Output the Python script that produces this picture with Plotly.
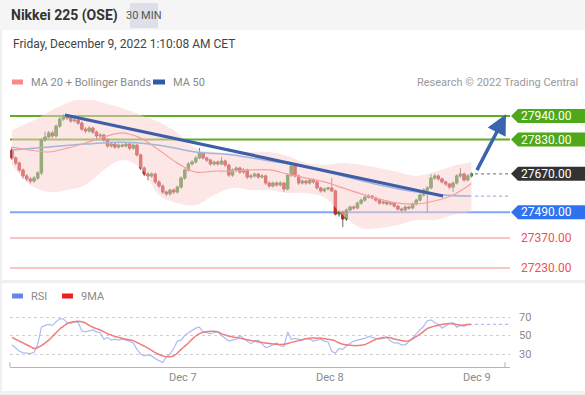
import plotly.graph_objects as go

# ---------------- data ----------------
opens = [27781, 27744, 27720, 27688, 27660, 27646, 27636, 27650, 27674, 27828,
         27842, 27861, 27847, 27893, 27926, 27935, 27931, 27917, 27921, 27907,
         27879, 27870, 27884, 27865, 27847, 27851, 27828, 27800, 27809, 27795,
         27804, 27800, 27809, 27790, 27804, 27758, 27697, 27669, 27660, 27669,
         27632, 27613, 27585, 27576, 27594, 27585, 27608, 27650, 27688, 27716,
         27725, 27744, 27767, 27744, 27734, 27716, 27725, 27716, 27730, 27711,
         27664, 27688, 27697, 27678, 27688, 27655, 27660, 27669, 27655, 27660,
         27627, 27613, 27627, 27618, 27627, 27599, 27664, 27706, 27660, 27627,
         27636, 27627, 27641, 27632, 27604, 27590, 27599, 27604, 27590, 27482,
         27491, 27459, 27501, 27515, 27510, 27533, 27547, 27561, 27566, 27557,
         27547, 27533, 27538, 27529, 27533, 27519, 27505, 27501, 27515, 27510,
         27529, 27547, 27571, 27594, 27604, 27650, 27660, 27646, 27632, 27622,
         27608, 27627, 27660, 27669, 27641, 27660]
closes = [27744, 27720, 27688, 27660, 27646, 27636, 27650, 27674, 27828, 27842,
          27861, 27847, 27893, 27926, 27935, 27931, 27917, 27921, 27907, 27879,
          27870, 27884, 27865, 27847, 27851, 27828, 27800, 27809, 27795, 27804,
          27800, 27809, 27790, 27804, 27758, 27697, 27669, 27660, 27669, 27632,
          27613, 27585, 27576, 27594, 27585, 27608, 27650, 27688, 27716, 27725,
          27744, 27767, 27744, 27734, 27716, 27725, 27716, 27730, 27711, 27664,
          27688, 27697, 27678, 27688, 27655, 27660, 27669, 27655, 27660, 27627,
          27613, 27627, 27618, 27627, 27599, 27664, 27706, 27660, 27627, 27636,
          27627, 27641, 27632, 27604, 27590, 27599, 27604, 27590, 27482, 27491,
          27459, 27501, 27515, 27510, 27533, 27547, 27561, 27566, 27557, 27547,
          27533, 27538, 27529, 27533, 27519, 27505, 27501, 27515, 27510, 27529,
          27547, 27571, 27594, 27604, 27650, 27660, 27646, 27632, 27622, 27608,
          27627, 27660, 27669, 27641, 27660, 27670]
highs = [27795, 27752, 27728, 27695, 27668, 27655, 27660, 27682, 27836, 27868,
         27870, 27872, 27900, 27935, 27948, 27942, 27938, 27930, 27928, 27915,
         27888, 27893, 27890, 27872, 27860, 27858, 27835, 27818, 27815, 27812,
         27812, 27818, 27815, 27812, 27810, 27765, 27705, 27678, 27677, 27676,
         27640, 27620, 27592, 27600, 27602, 27615, 27658, 27695, 27725, 27735,
         27752, 27790, 27772, 27750, 27740, 27732, 27732, 27748, 27736, 27718,
         27695, 27705, 27703, 27696, 27694, 27668, 27676, 27675, 27668, 27666,
         27634, 27634, 27634, 27635, 27632, 27670, 27722, 27712, 27666, 27644,
         27642, 27648, 27648, 27638, 27610, 27606, 27610, 27652, 27596, 27500,
         27498, 27508, 27522, 27522, 27540, 27554, 27568, 27574, 27572, 27563,
         27553, 27545, 27544, 27540, 27538, 27525, 27512, 27522, 27521, 27536,
         27554, 27578, 27602, 27612, 27668, 27670, 27666, 27652, 27638, 27628,
         27634, 27668, 27697, 27676, 27668, 27677]
lows = [27735, 27710, 27678, 27648, 27635, 27625, 27628, 27642, 27665, 27820,
        27835, 27838, 27840, 27885, 27918, 27922, 27908, 27910, 27898, 27870,
        27860, 27862, 27856, 27825, 27838, 27820, 27792, 27792, 27786, 27788,
        27792, 27793, 27780, 27783, 27750, 27688, 27660, 27640, 27652, 27622,
        27603, 27576, 27566, 27568, 27576, 27578, 27600, 27642, 27680, 27708,
        27718, 27738, 27736, 27725, 27707, 27708, 27708, 27710, 27702, 27655,
        27656, 27680, 27670, 27670, 27645, 27647, 27652, 27646, 27648, 27618,
        27605, 27606, 27610, 27611, 27585, 27592, 27656, 27652, 27618, 27620,
        27618, 27620, 27624, 27596, 27582, 27583, 27592, 27584, 27475, 27470,
        27421, 27450, 27494, 27502, 27504, 27526, 27540, 27554, 27550, 27540,
        27526, 27527, 27522, 27522, 27512, 27498, 27494, 27495, 27503, 27504,
        27522, 27540, 27564, 27491, 27598, 27642, 27638, 27624, 27614, 27598,
        27585, 27620, 27652, 27632, 27634, 27653]
candle_idx = list(range(len(closes)))

# moving averages / bands (read every 5 candles)
band_idx = [0, 5, 10, 15, 20, 25, 30, 35, 40, 45, 50, 55, 60, 65, 70, 75, 80,
            85, 90, 95, 100, 105, 110, 115, 120, 125]
ma20 = [27795, 27781, 27772, 27790, 27814, 27842, 27861, 27837, 27781, 27720,
        27678, 27683, 27683, 27688, 27688, 27669, 27650, 27632, 27604, 27576,
        27552, 27533, 27529, 27543, 27571, 27625]
bb_upper = [27875, 27912, 27959, 28001, 28024, 28001, 27977, 27945, 27912, 27861,
            27790, 27772, 27767, 27772, 27772, 27753, 27720, 27711, 27720, 27711,
            27697, 27678, 27660, 27678, 27706, 27725]
bb_lower = [27711, 27618, 27585, 27594, 27618, 27688, 27734, 27697, 27571, 27533,
            27524, 27571, 27604, 27594, 27594, 27580, 27580, 27561, 27477, 27417,
            27417, 27431, 27454, 27454, 27477, 27491]
ma50_idx = [0, 10, 20, 30, 40, 50, 60, 70, 80, 90, 100, 110, 117, 125]
ma50 = [27781, 27795, 27809, 27818, 27804, 27772, 27758, 27730, 27702, 27660,
        27618, 27585, 27571, 27566]

rsi = [40, 36, 33, 31.5, 31, 30.5, 32, 40, 59, 61,
       62, 61, 65, 68, 68, 64, 63, 65, 64, 55,
       54, 55, 56, 54, 53, 46, 48, 45, 46, 45,
       46, 45, 44, 42, 35, 30, 28, 29, 28, 25,
       23, 21, 27, 30, 36, 44, 45, 50, 53, 56,
       58, 59, 54, 53, 52, 53, 54, 50, 47, 44,
       45, 46, 50, 47, 44, 41, 44, 45, 41, 37,
       38, 40, 42, 39, 38, 54, 46, 47, 46, 45,
       47, 46, 44, 45, 46, 44, 43, 33, 31, 36,
       35, 39, 42, 44, 45, 46, 47, 49, 48, 47,
       46, 47, 48, 44, 42, 42, 40, 40, 43, 47,
       52, 56, 60, 66, 67, 64, 62, 58, 61, 63,
       64, 59, 61, 60, 62, 62]
rsi_ma9 = [48, 46, 44, 42, 40, 38, 36, 37, 39, 42,
           45, 49, 53, 57, 60, 63, 64.5, 65, 65.4, 65,
           63.5, 61, 59, 57.5, 56, 54, 52, 50.5, 49, 48,
           47, 46, 45.5, 44.5, 42.5, 40.5, 38.5, 36.5, 34, 31.5,
           29.5, 28, 27.2, 27, 28, 31, 35, 38.5, 42, 46,
           49.5, 52, 53.5, 54.2, 54.5, 54.5, 54.2, 52, 50.5, 49.5,
           48.5, 47.8, 47.2, 46.3, 45.5, 44.7, 44, 43.3, 42.6, 42,
           41.5, 41, 40.5, 40.2, 40.5, 41.5, 42.6, 43.5, 44.5, 45.5,
           46.5, 47.2, 47.3, 47.2, 47.2, 46.8, 46, 45.4, 44, 42,
           40.5, 40, 39.5, 39.1, 39.2, 39.6, 40.2, 42, 44, 46,
           47, 47.8, 48.2, 47.5, 46.3, 45.4, 44.5, 43.8, 44.5, 46.5,
           48.9, 51.5, 54.5, 57.5, 59, 60.2, 61.2, 62, 62.5, 63,
           62.5, 62, 61.2, 61.5, 62, 62]

trend_idx = [14.4, 117.3]
trend_price = [27945, 27566]
arrow_from = (126.3, 27680)
arrow_to = (134.4, 27948)
ext_idx = [126, 135.5]

levels = [27940, 27830, 27670, 27490, 27370, 27230]
level_labels = ["27940.00", "27830.00", "27670.00", "27490.00", "27370.00", "27230.00"]
level_kind = ["green", "green", "last", "blue", "red", "red"]

rsi_ticks = [30, 50, 70]
day_pos = [46.5, 86.5, 126.5]
day_labels = ["Dec 7", "Dec 8", "Dec 9"]

# ---------------- styling ----------------
FONT = "Roboto, Arial, sans-serif"
GREEN_LINE = "#5fae22"
GREEN_BOX = "#4fa81a"
BLUE_LINE = "#7da7f5"
BLUE_BOX = "#2f72f0"
RED_LINE = "#f7b0b0"
RED_TEXT = "#f25050"
DARK_BOX = "#333333"

W, H = 585, 395
L, R, T, B = 10, 510, 100, 367


def px(x):
    return (x - L) / (R - L)


def py(y):
    return (B - y) / (B - T)


PX_PER_PT = 0.214  # price pixels per point (approx)

fig = go.Figure()

# Bollinger band fill
fig.add_trace(go.Scatter(x=band_idx, y=bb_upper, mode="lines", line=dict(width=0, shape="spline"),
                         hoverinfo="skip", xaxis="x", yaxis="y"))
fig.add_trace(go.Scatter(x=band_idx, y=bb_lower, mode="lines", line=dict(width=0, shape="spline"),
                         fill="tonexty", fillcolor="rgba(252,205,205,0.5)", hoverinfo="skip",
                         xaxis="x", yaxis="y"))
# MA50 and MA20
fig.add_trace(go.Scatter(x=ma50_idx, y=ma50, mode="lines",
                         line=dict(color="#a3b5dc", width=1.5, shape="spline"), xaxis="x", yaxis="y"))
fig.add_trace(go.Scatter(x=band_idx, y=ma20, mode="lines",
                         line=dict(color="#f5a0a0", width=1.2, shape="spline"), xaxis="x", yaxis="y"))

# candles: grey wicks underneath, coloured bodies on top
fig.add_trace(go.Candlestick(x=candle_idx, open=opens, high=highs, low=lows, close=closes,
                             increasing=dict(line=dict(color="#666666", width=1), fillcolor="#666666"),
                             decreasing=dict(line=dict(color="#666666", width=1), fillcolor="#666666"),
                             whiskerwidth=0, hoverinfo="skip", xaxis="x", yaxis="y"))
fig.add_trace(go.Candlestick(x=candle_idx, open=opens, high=opens, low=opens, close=closes,
                             increasing=dict(line=dict(color="#2f8f22", width=0.8), fillcolor="#2f8f22"),
                             decreasing=dict(line=dict(color="#d02424", width=0.8), fillcolor="#d02424"),
                             whiskerwidth=0, hoverinfo="skip", xaxis="x", yaxis="y"))

# trendline
fig.add_trace(go.Scatter(x=trend_idx, y=trend_price, mode="lines",
                         line=dict(color="#3d5fa8", width=3.2), xaxis="x", yaxis="y"))
# dotted extensions (last price, MA50)
fig.add_trace(go.Scatter(x=ext_idx, y=[closes[-1], closes[-1]], mode="lines",
                         line=dict(color="#888888", width=1.3, dash="dot"), xaxis="x", yaxis="y"))
fig.add_trace(go.Scatter(x=ext_idx, y=[ma50[-1], ma50[-1]], mode="lines",
                         line=dict(color="#a3b5dc", width=1.3, dash="dot"), xaxis="x", yaxis="y"))

# RSI panel
fig.add_trace(go.Scatter(x=candle_idx, y=rsi, mode="lines",
                         line=dict(color="#aabdf2", width=1.2), xaxis="x2", yaxis="y2"))
fig.add_trace(go.Scatter(x=candle_idx, y=rsi_ma9, mode="lines",
                         line=dict(color="#f07c7c", width=1.5, shape="spline"), xaxis="x2", yaxis="y2"))
fig.add_trace(go.Scatter(x=ext_idx, y=[rsi[-1], rsi[-1]], mode="lines",
                         line=dict(color="#aabdf2", width=1.3, dash="dot"), xaxis="x2", yaxis="y2"))

shapes = []
annotations = []

# background panels
shapes.append(dict(type="rect", xref="paper", yref="paper", x0=px(-5), x1=px(590),
                   y0=py(0), y1=py(30), fillcolor="#f5f5f5", line=dict(width=0), layer="below"))
shapes.append(dict(type="rect", xref="paper", yref="paper", x0=px(2), x1=px(590),
                   y0=py(30), y1=py(280), fillcolor="#ffffff", line=dict(width=0), layer="below"))
shapes.append(dict(type="rect", xref="paper", yref="paper", x0=px(2), x1=px(590),
                   y0=py(283), y1=py(391), fillcolor="#ffffff", line=dict(width=0), layer="below"))
# 30 MIN box
shapes.append(dict(type="rect", xref="paper", yref="paper", x0=px(130), x1=px(158),
                   y0=py(3), y1=py(28), fillcolor="#dde1e7", line=dict(width=0), layer="below"))

# level lines and labels
half = 7 / PX_PER_PT
for lv, lab, kind in zip(levels, level_labels, level_kind):
    if kind == "green":
        shapes.append(dict(type="line", xref="paper", yref="y", x0=0, x1=1, y0=lv, y1=lv,
                           line=dict(color=GREEN_LINE, width=2), layer="below"))
    elif kind == "blue":
        shapes.append(dict(type="line", xref="paper", yref="y", x0=0, x1=1, y0=lv, y1=lv,
                           line=dict(color=BLUE_LINE, width=2), layer="below"))
    elif kind == "red":
        shapes.append(dict(type="line", xref="paper", yref="y", x0=0, x1=1, y0=lv, y1=lv,
                           line=dict(color=RED_LINE, width=1.5), layer="below"))
    if kind in ("green", "blue", "last"):
        col = {"green": GREEN_BOX, "blue": BLUE_BOX, "last": DARK_BOX}[kind]
        path = (f"M {px(511)},{lv} L {px(518)},{lv + half} L {px(590)},{lv + half} "
                f"L {px(590)},{lv - half} L {px(518)},{lv - half} Z")
        shapes.append(dict(type="path", xref="paper", yref="y", path=path,
                           fillcolor=col, line=dict(width=0)))
        tcol = "#ffffff"
    else:
        tcol = RED_TEXT
    annotations.append(dict(x=px(519), y=lv, xref="paper", yref="y", text=lab, showarrow=False,
                            xanchor="left", yanchor="middle",
                            font=dict(family=FONT, size=12, color=tcol)))

# axis end ticks for the RSI time axis
for xx in (L, 505):
    shapes.append(dict(type="line", xref="paper", yref="paper", x0=px(xx), x1=px(xx),
                       y0=py(367), y1=py(362), line=dict(color="#b5b5b5", width=1)))

# legends
def legend_rect(x0, x1, y, color):
    shapes.append(dict(type="rect", xref="paper", yref="paper", x0=px(x0), x1=px(x1),
                       y0=py(y + 2.5), y1=py(y - 2.5), fillcolor=color, line=dict(width=0)))


legend_rect(12, 23, 82, "#f78b8b")
legend_rect(153, 165, 82, "#2f5aa6")
legend_rect(12, 23, 296, "#6487e6")
legend_rect(62, 73, 296, "#f21c1c")


def text(x, y, s, size=11, color="#8a8a8a", anchor="left", bold=False):
    annotations.append(dict(x=px(x), y=py(y), xref="paper", yref="paper", text=(f"<b>{s}</b>" if bold else s),
                            showarrow=False, xanchor=anchor, yanchor="middle",
                            font=dict(family=FONT, size=size, color=color)))


text(9, 15, "Nikkei 225 (OSE)", size=14, color="#333333", bold=True)
text(144, 15.5, "30 MIN", size=11, color="#555555", anchor="center")
text(11, 44, "Friday, December 9, 2022 1:10:08 AM CET", size=12, color="#444444")
text(29, 82, "MA 20 + Bollinger Bands", size=11)
text(171, 82, "MA 50", size=11)
text(580, 82, "Research © 2022 Trading Central", size=11, color="#9a9a9a", anchor="right")
text(29, 296, "RSI", size=11)
text(79, 296, "9MA", size=11)

# arrow
annotations.append(dict(x=arrow_to[0], y=arrow_to[1], ax=arrow_from[0], ay=arrow_from[1],
                        xref="x", yref="y", axref="x", ayref="y", text="", showarrow=True,
                        arrowhead=2, arrowsize=1.15, arrowwidth=3.5, arrowcolor="#3a64ad",
                        standoff=0, startstandoff=0))

xr = [-0.54, 135.5]
fig.update_layout(
    width=W, height=H,
    margin=dict(l=L, r=W - R, t=T, b=H - B, pad=0),
    paper_bgcolor="#eef0f2",
    plot_bgcolor="rgba(0,0,0,0)",
    showlegend=False,
    boxgap=0.1,
    font=dict(family=FONT),
    shapes=shapes,
    annotations=annotations,
    xaxis=dict(domain=[0, 1], range=xr, anchor="y", showgrid=False, zeroline=False,
               showticklabels=False, rangeslider=dict(visible=False), fixedrange=True),
    yaxis=dict(domain=[(B - 278) / (B - T), 1], range=[27183, 28015], showgrid=False, zeroline=False,
               showticklabels=False, fixedrange=True),
    xaxis2=dict(domain=[0, 1], range=xr, anchor="y2", showgrid=False, zeroline=False,
                tickmode="array", tickvals=day_pos, ticktext=day_labels, ticks="",
                showline=True, linecolor="#b5b5b5", linewidth=1,
                tickfont=dict(family=FONT, size=11, color="#8a8a8a"), fixedrange=True),
    yaxis2=dict(domain=[0, (B - 305) / (B - T)], range=[16, 83], anchor="x2", side="right",
                tickmode="array", tickvals=rsi_ticks, ticks="", showgrid=True,
                gridcolor="#cfcfcf", griddash="dot", gridwidth=1, zeroline=False,
                ticklabelstandoff=8,
                tickfont=dict(family=FONT, size=11, color="#8a8a8a"), fixedrange=True),
)

fig.write_html("out.html", config={"displayModeBar": False},
               post_script="document.body.style.margin='0';document.body.style.overflow='hidden';")
